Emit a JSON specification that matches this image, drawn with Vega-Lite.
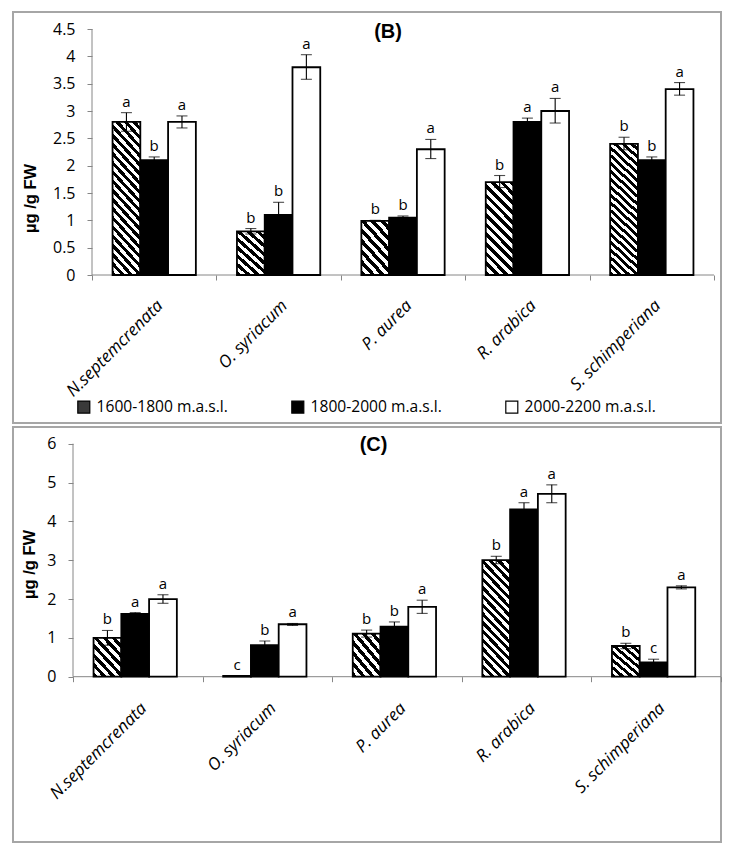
{
  "$schema": "https://vega.github.io/schema/vega-lite/v6.json",
  "background": "white",
  "padding": {"left": 11, "top": 11, "right": 0, "bottom": 0},
  "bounds": "flush",
  "spacing": 4,
  "config": {"view": {"stroke": "#a6a6a6", "strokeWidth": 2}, "font": "Open Sans"},
  "datasets": {
    "B": [
      {"sp": "N.septemcrenata", "elev": "1600-1800 m.a.s.l.", "v": 2.8, "lo": 2.63, "hi": 2.97, "lab": "a"},
      {"sp": "N.septemcrenata", "elev": "1800-2000 m.a.s.l.", "v": 2.1, "lo": 2.04, "hi": 2.16, "lab": "b"},
      {"sp": "N.septemcrenata", "elev": "2000-2200 m.a.s.l.", "v": 2.8, "lo": 2.69, "hi": 2.91, "lab": "a"},
      {"sp": "O. syriacum", "elev": "1600-1800 m.a.s.l.", "v": 0.8, "lo": 0.75, "hi": 0.85, "lab": "b"},
      {"sp": "O. syriacum", "elev": "1800-2000 m.a.s.l.", "v": 1.1, "lo": 0.88, "hi": 1.33, "lab": "b"},
      {"sp": "O. syriacum", "elev": "2000-2200 m.a.s.l.", "v": 3.8, "lo": 3.58, "hi": 4.03, "lab": "a"},
      {"sp": "P. aurea", "elev": "1600-1800 m.a.s.l.", "v": 0.99, "lo": 0.98, "hi": 1.0, "lab": "b"},
      {"sp": "P. aurea", "elev": "1800-2000 m.a.s.l.", "v": 1.05, "lo": 1.03, "hi": 1.08, "lab": "b"},
      {"sp": "P. aurea", "elev": "2000-2200 m.a.s.l.", "v": 2.3, "lo": 2.13, "hi": 2.48, "lab": "a"},
      {"sp": "R. arabica", "elev": "1600-1800 m.a.s.l.", "v": 1.7, "lo": 1.6, "hi": 1.82, "lab": "b"},
      {"sp": "R. arabica", "elev": "1800-2000 m.a.s.l.", "v": 2.8, "lo": 2.73, "hi": 2.87, "lab": "a"},
      {"sp": "R. arabica", "elev": "2000-2200 m.a.s.l.", "v": 3.0, "lo": 2.78, "hi": 3.23, "lab": "a"},
      {"sp": "S. schimperiana", "elev": "1600-1800 m.a.s.l.", "v": 2.4, "lo": 2.29, "hi": 2.52, "lab": "b"},
      {"sp": "S. schimperiana", "elev": "1800-2000 m.a.s.l.", "v": 2.1, "lo": 2.04, "hi": 2.16, "lab": "b"},
      {"sp": "S. schimperiana", "elev": "2000-2200 m.a.s.l.", "v": 3.4, "lo": 3.29, "hi": 3.52, "lab": "a"}
    ],
    "C": [
      {"sp": "N.septemcrenata", "elev": "1600-1800 m.a.s.l.", "v": 1.0, "lo": 0.81, "hi": 1.19, "lab": "b"},
      {"sp": "N.septemcrenata", "elev": "1800-2000 m.a.s.l.", "v": 1.62, "lo": 1.59, "hi": 1.65, "lab": "a"},
      {"sp": "N.septemcrenata", "elev": "2000-2200 m.a.s.l.", "v": 2.0, "lo": 1.89, "hi": 2.11, "lab": "a"},
      {"sp": "O. syriacum", "elev": "1600-1800 m.a.s.l.", "v": 0.02, "lo": 0.02, "hi": 0.02, "lab": "c"},
      {"sp": "O. syriacum", "elev": "1800-2000 m.a.s.l.", "v": 0.81, "lo": 0.7, "hi": 0.92, "lab": "b"},
      {"sp": "O. syriacum", "elev": "2000-2200 m.a.s.l.", "v": 1.35, "lo": 1.32, "hi": 1.37, "lab": "a"},
      {"sp": "P. aurea", "elev": "1600-1800 m.a.s.l.", "v": 1.11, "lo": 1.02, "hi": 1.2, "lab": "b"},
      {"sp": "P. aurea", "elev": "1800-2000 m.a.s.l.", "v": 1.29, "lo": 1.17, "hi": 1.41, "lab": "b"},
      {"sp": "P. aurea", "elev": "2000-2200 m.a.s.l.", "v": 1.8, "lo": 1.63, "hi": 1.97, "lab": "a"},
      {"sp": "R. arabica", "elev": "1600-1800 m.a.s.l.", "v": 3.0, "lo": 2.91, "hi": 3.1, "lab": "b"},
      {"sp": "R. arabica", "elev": "1800-2000 m.a.s.l.", "v": 4.31, "lo": 4.14, "hi": 4.48, "lab": "a"},
      {"sp": "R. arabica", "elev": "2000-2200 m.a.s.l.", "v": 4.71, "lo": 4.48, "hi": 4.94, "lab": "a"},
      {"sp": "S. schimperiana", "elev": "1600-1800 m.a.s.l.", "v": 0.79, "lo": 0.72, "hi": 0.86, "lab": "b"},
      {"sp": "S. schimperiana", "elev": "1800-2000 m.a.s.l.", "v": 0.37, "lo": 0.28, "hi": 0.45, "lab": "c"},
      {"sp": "S. schimperiana", "elev": "2000-2200 m.a.s.l.", "v": 2.3, "lo": 2.26, "hi": 2.34, "lab": "a"}
    ]
  },
  "vconcat": [
    {
      "width": 708,
      "height": 411,
      "data": {"name": "B"},
      "title": {"text": "(B)", "font": "Liberation Sans", "fontWeight": "bold", "fontSize": 20, "color": "#000", "anchor": "middle", "offset": -42, "dx": 21, "dy": 8, "baseline": "bottom"},
      "layer": [
        {
          "data": {"values": [{}]},
          "mark": {"type": "rule", "color": "#868686", "strokeWidth": 1},
          "encoding": {
            "x": {"datum": "N.septemcrenata", "type": "nominal", "bandPosition": 0, "scale": {"domain": ["N.septemcrenata", "O. syriacum", "P. aurea", "R. arabica", "S. schimperiana"], "paddingInner": 0, "paddingOuter": 0.3457, "align": 0.9186}},
            "y": {"datum": 0, "type": "quantitative", "scale": {"domain": [-2.707, 4.811], "nice": false, "zero": false}},
            "y2": {"datum": 4.5}
          }
        },
        {
          "data": {"values": [{}]},
          "mark": {"type": "rule", "color": "#868686", "strokeWidth": 1},
          "encoding": {
            "x": {"datum": "N.septemcrenata", "type": "nominal", "bandPosition": 0},
            "x2": {"datum": "S. schimperiana", "bandPosition": 1},
            "y": {"datum": 0, "type": "quantitative"}
          }
        },
        {
          "mark": {"type": "bar", "stroke": "#000", "strokeWidth": 1.8},
          "encoding": {
            "x": {"field": "sp", "type": "nominal", "scale": {"domain": ["N.septemcrenata", "O. syriacum", "P. aurea", "R. arabica", "S. schimperiana"], "paddingInner": 0, "paddingOuter": 0.3457, "align": 0.9186},
              "axis": {"title": null, "domain": false, "grid": false, "tickBand": "extent", "tickColor": "#868686", "tickSize": 5, "labelAngle": -45, "labelAlign": "right", "labelBaseline": "top", "labelPadding": 17, "labelFont": "Open Sans", "labelFontSize": 17, "labelFontStyle": "italic", "labelColor": "#000", "labelOverlap": false, "offset": -148}},
            "xOffset": {"field": "elev", "type": "nominal", "scale": {"domain": ["1600-1800 m.a.s.l.", "1800-2000 m.a.s.l.", "2000-2200 m.a.s.l."], "paddingInner": 0, "paddingOuter": 0.74}},
            "y": {"field": "v", "type": "quantitative", "scale": {"domain": [-2.707, 4.811], "nice": false, "zero": false},
              "axis": {"title": "µg /g FW", "values": [0, 0.5, 1, 1.5, 2, 2.5, 3, 3.5, 4, 4.5], "format": "~g", "offset": -79, "domain": false, "grid": false, "tickColor": "#868686", "tickSize": 5, "labelPadding": 12, "labelFont": "Open Sans", "labelFontSize": 16, "labelColor": "#000", "titleFont": "Liberation Sans", "titleFontSize": 16.5, "titleFontWeight": "bold", "titleColor": "#000", "titleX": -62, "titleY": 186, "titleBaseline": "middle", "titleAlign": "center", "titleAngle": 270}},
            "fill": {
              "condition": [
                {"test": "datum.elev === '1600-1800 m.a.s.l.' && datum.v >= 2.2", "value": {"gradient": "linear", "x1": 0, "y1": 1, "x2": 0.2273, "y2": -0.1525, "stops": [
                  {"offset": 0, "color": "#000"}, {"offset": 0.025, "color": "#000"}, {"offset": 0.025, "color": "#fff"}, {"offset": 0.05, "color": "#fff"},
                  {"offset": 0.05, "color": "#000"}, {"offset": 0.075, "color": "#000"}, {"offset": 0.075, "color": "#fff"}, {"offset": 0.1, "color": "#fff"},
                  {"offset": 0.1, "color": "#000"}, {"offset": 0.125, "color": "#000"}, {"offset": 0.125, "color": "#fff"}, {"offset": 0.15, "color": "#fff"},
                  {"offset": 0.15, "color": "#000"}, {"offset": 0.175, "color": "#000"}, {"offset": 0.175, "color": "#fff"}, {"offset": 0.2, "color": "#fff"},
                  {"offset": 0.2, "color": "#000"}, {"offset": 0.225, "color": "#000"}, {"offset": 0.225, "color": "#fff"}, {"offset": 0.25, "color": "#fff"},
                  {"offset": 0.25, "color": "#000"}, {"offset": 0.275, "color": "#000"}, {"offset": 0.275, "color": "#fff"}, {"offset": 0.3, "color": "#fff"},
                  {"offset": 0.3, "color": "#000"}, {"offset": 0.325, "color": "#000"}, {"offset": 0.325, "color": "#fff"}, {"offset": 0.35, "color": "#fff"},
                  {"offset": 0.35, "color": "#000"}, {"offset": 0.375, "color": "#000"}, {"offset": 0.375, "color": "#fff"}, {"offset": 0.4, "color": "#fff"},
                  {"offset": 0.4, "color": "#000"}, {"offset": 0.425, "color": "#000"}, {"offset": 0.425, "color": "#fff"}, {"offset": 0.45, "color": "#fff"},
                  {"offset": 0.45, "color": "#000"}, {"offset": 0.475, "color": "#000"}, {"offset": 0.475, "color": "#fff"}, {"offset": 0.5, "color": "#fff"},
                  {"offset": 0.5, "color": "#000"}, {"offset": 0.525, "color": "#000"}, {"offset": 0.525, "color": "#fff"}, {"offset": 0.55, "color": "#fff"},
                  {"offset": 0.55, "color": "#000"}, {"offset": 0.575, "color": "#000"}, {"offset": 0.575, "color": "#fff"}, {"offset": 0.6, "color": "#fff"},
                  {"offset": 0.6, "color": "#000"}, {"offset": 0.625, "color": "#000"}, {"offset": 0.625, "color": "#fff"}, {"offset": 0.65, "color": "#fff"},
                  {"offset": 0.65, "color": "#000"}, {"offset": 0.675, "color": "#000"}, {"offset": 0.675, "color": "#fff"}, {"offset": 0.7, "color": "#fff"},
                  {"offset": 0.7, "color": "#000"}, {"offset": 0.725, "color": "#000"}, {"offset": 0.725, "color": "#fff"}, {"offset": 0.75, "color": "#fff"},
                  {"offset": 0.75, "color": "#000"}, {"offset": 0.775, "color": "#000"}, {"offset": 0.775, "color": "#fff"}, {"offset": 0.8, "color": "#fff"},
                  {"offset": 0.8, "color": "#000"}, {"offset": 0.825, "color": "#000"}, {"offset": 0.825, "color": "#fff"}, {"offset": 0.85, "color": "#fff"},
                  {"offset": 0.85, "color": "#000"}, {"offset": 0.875, "color": "#000"}, {"offset": 0.875, "color": "#fff"}, {"offset": 0.9, "color": "#fff"},
                  {"offset": 0.9, "color": "#000"}, {"offset": 0.925, "color": "#000"}, {"offset": 0.925, "color": "#fff"}, {"offset": 0.95, "color": "#fff"},
                  {"offset": 0.95, "color": "#000"}, {"offset": 0.975, "color": "#000"}, {"offset": 0.975, "color": "#fff"}, {"offset": 1, "color": "#fff"}
                ]}},
                {"test": "datum.elev === '1600-1800 m.a.s.l.' && datum.v >= 1.5", "value": {"gradient": "linear", "x1": 0, "y1": 1, "x2": 0.3594, "y2": -0.1932, "stops": [
                  {"offset": 0, "color": "#000"}, {"offset": 0.04, "color": "#000"}, {"offset": 0.04, "color": "#fff"}, {"offset": 0.08, "color": "#fff"},
                  {"offset": 0.08, "color": "#000"}, {"offset": 0.12, "color": "#000"}, {"offset": 0.12, "color": "#fff"}, {"offset": 0.16, "color": "#fff"},
                  {"offset": 0.16, "color": "#000"}, {"offset": 0.2, "color": "#000"}, {"offset": 0.2, "color": "#fff"}, {"offset": 0.24, "color": "#fff"},
                  {"offset": 0.24, "color": "#000"}, {"offset": 0.28, "color": "#000"}, {"offset": 0.28, "color": "#fff"}, {"offset": 0.32, "color": "#fff"},
                  {"offset": 0.32, "color": "#000"}, {"offset": 0.36, "color": "#000"}, {"offset": 0.36, "color": "#fff"}, {"offset": 0.4, "color": "#fff"},
                  {"offset": 0.4, "color": "#000"}, {"offset": 0.44, "color": "#000"}, {"offset": 0.44, "color": "#fff"}, {"offset": 0.48, "color": "#fff"},
                  {"offset": 0.48, "color": "#000"}, {"offset": 0.52, "color": "#000"}, {"offset": 0.52, "color": "#fff"}, {"offset": 0.56, "color": "#fff"},
                  {"offset": 0.56, "color": "#000"}, {"offset": 0.6, "color": "#000"}, {"offset": 0.6, "color": "#fff"}, {"offset": 0.64, "color": "#fff"},
                  {"offset": 0.64, "color": "#000"}, {"offset": 0.68, "color": "#000"}, {"offset": 0.68, "color": "#fff"}, {"offset": 0.72, "color": "#fff"},
                  {"offset": 0.72, "color": "#000"}, {"offset": 0.76, "color": "#000"}, {"offset": 0.76, "color": "#fff"}, {"offset": 0.8, "color": "#fff"},
                  {"offset": 0.8, "color": "#000"}, {"offset": 0.84, "color": "#000"}, {"offset": 0.84, "color": "#fff"}, {"offset": 0.88, "color": "#fff"},
                  {"offset": 0.88, "color": "#000"}, {"offset": 0.92, "color": "#000"}, {"offset": 0.92, "color": "#fff"}, {"offset": 0.96, "color": "#fff"},
                  {"offset": 0.96, "color": "#000"}, {"offset": 1, "color": "#000"}
                ]}},
                {"test": "datum.elev === '1600-1800 m.a.s.l.'", "value": {"gradient": "linear", "x1": 0, "y1": 1, "x2": 0.6702, "y2": -0.1863, "stops": [
                  {"offset": 0, "color": "#000"}, {"offset": 0.0625, "color": "#000"}, {"offset": 0.0625, "color": "#fff"}, {"offset": 0.125, "color": "#fff"},
                  {"offset": 0.125, "color": "#000"}, {"offset": 0.1875, "color": "#000"}, {"offset": 0.1875, "color": "#fff"}, {"offset": 0.25, "color": "#fff"},
                  {"offset": 0.25, "color": "#000"}, {"offset": 0.3125, "color": "#000"}, {"offset": 0.3125, "color": "#fff"}, {"offset": 0.375, "color": "#fff"},
                  {"offset": 0.375, "color": "#000"}, {"offset": 0.4375, "color": "#000"}, {"offset": 0.4375, "color": "#fff"}, {"offset": 0.5, "color": "#fff"},
                  {"offset": 0.5, "color": "#000"}, {"offset": 0.5625, "color": "#000"}, {"offset": 0.5625, "color": "#fff"}, {"offset": 0.625, "color": "#fff"},
                  {"offset": 0.625, "color": "#000"}, {"offset": 0.6875, "color": "#000"}, {"offset": 0.6875, "color": "#fff"}, {"offset": 0.75, "color": "#fff"},
                  {"offset": 0.75, "color": "#000"}, {"offset": 0.8125, "color": "#000"}, {"offset": 0.8125, "color": "#fff"}, {"offset": 0.875, "color": "#fff"},
                  {"offset": 0.875, "color": "#000"}, {"offset": 0.9375, "color": "#000"}, {"offset": 0.9375, "color": "#fff"}, {"offset": 1, "color": "#fff"}
                ]}}
              ],
              "field": "elev", "type": "nominal",
              "scale": {"domain": ["1600-1800 m.a.s.l.", "1800-2000 m.a.s.l.", "2000-2200 m.a.s.l."], "range": ["#3a3a3a", "#000", "#fff"]},
              "legend": {"title": null, "orient": "none", "legendX": 63, "legendY": 387, "direction": "horizontal", "padding": 0, "symbolType": "square", "symbolSize": 144, "symbolStrokeWidth": 1.2, "labelFont": "Open Sans", "labelFontSize": 15.6, "labelColor": "#000", "labelOffset": 5, "columnPadding": 61, "labelLimit": 300}
            },
            "stroke": {"field": "elev", "type": "nominal",
              "scale": {"domain": ["1600-1800 m.a.s.l.", "1800-2000 m.a.s.l.", "2000-2200 m.a.s.l."], "range": ["#000", "#000", "#000"]},
              "legend": {"title": null, "orient": "none", "legendX": 63, "legendY": 387, "direction": "horizontal", "padding": 0, "symbolType": "square", "symbolSize": 144, "symbolStrokeWidth": 1.2, "labelFont": "Open Sans", "labelFontSize": 15.6, "labelColor": "#000", "labelOffset": 5, "columnPadding": 61, "labelLimit": 300}
            }
          }
        },
        {
          "mark": {"type": "rule", "color": "#000", "strokeWidth": 1.1},
          "encoding": {
            "x": {"field": "sp", "type": "nominal"},
            "xOffset": {"field": "elev", "type": "nominal"},
            "y": {"field": "lo", "type": "quantitative"},
            "y2": {"field": "hi"}
          }
        },
        {
          "mark": {"type": "tick", "orient": "horizontal", "size": 11, "thickness": 1.1, "color": "#000"},
          "encoding": {
            "x": {"field": "sp", "type": "nominal"},
            "xOffset": {"field": "elev", "type": "nominal"},
            "y": {"field": "hi", "type": "quantitative"}
          }
        },
        {
          "mark": {"type": "tick", "orient": "horizontal", "size": 11, "thickness": 1.1, "color": "#000"},
          "encoding": {
            "x": {"field": "sp", "type": "nominal"},
            "xOffset": {"field": "elev", "type": "nominal"},
            "y": {"field": "lo", "type": "quantitative"}
          }
        },
        {
          "mark": {"type": "text", "font": "Open Sans", "fontSize": 15, "color": "#000", "baseline": "alphabetic", "dy": -6},
          "encoding": {
            "x": {"field": "sp", "type": "nominal"},
            "xOffset": {"field": "elev", "type": "nominal"},
            "y": {"field": "hi", "type": "quantitative"},
            "text": {"field": "lab"}
          }
        }
      ]
    },
    {
      "width": 708,
      "height": 415,
      "data": {"name": "C"},
      "title": {"text": "(C)", "font": "Liberation Sans", "fontWeight": "bold", "fontSize": 20, "color": "#000", "anchor": "middle", "offset": -46, "dx": 6.5, "dy": 2, "baseline": "bottom"},
      "layer": [
        {
          "data": {"values": [{}]},
          "mark": {"type": "rule", "color": "#868686", "strokeWidth": 1},
          "encoding": {
            "x": {"datum": "N.septemcrenata", "type": "nominal", "bandPosition": 0, "scale": {"domain": ["N.septemcrenata", "O. syriacum", "P. aurea", "R. arabica", "S. schimperiana"], "paddingInner": 0, "paddingOuter": 0.2315, "align": 1}},
            "y": {"datum": 0, "type": "quantitative", "scale": {"domain": [-4.257, 6.43], "nice": false, "zero": false}},
            "y2": {"datum": 6}
          }
        },
        {
          "data": {"values": [{}]},
          "mark": {"type": "rule", "color": "#868686", "strokeWidth": 1},
          "encoding": {
            "x": {"datum": "N.septemcrenata", "type": "nominal", "bandPosition": 0},
            "x2": {"datum": "S. schimperiana", "bandPosition": 1},
            "y": {"datum": 0, "type": "quantitative"}
          }
        },
        {
          "mark": {"type": "bar", "stroke": "#000", "strokeWidth": 1.8},
          "encoding": {
            "x": {"field": "sp", "type": "nominal", "scale": {"domain": ["N.septemcrenata", "O. syriacum", "P. aurea", "R. arabica", "S. schimperiana"], "paddingInner": 0, "paddingOuter": 0.2315, "align": 1},
              "axis": {"title": null, "domain": false, "grid": false, "tickBand": "extent", "tickColor": "#868686", "tickSize": 5, "labelAngle": -45, "labelAlign": "right", "labelBaseline": "top", "labelPadding": 18, "labelFont": "Open Sans", "labelFontSize": 17, "labelFontStyle": "italic", "labelColor": "#000", "labelOverlap": false, "offset": -165.3}},
            "xOffset": {"field": "elev", "type": "nominal", "scale": {"domain": ["1600-1800 m.a.s.l.", "1800-2000 m.a.s.l.", "2000-2200 m.a.s.l."], "paddingInner": 0, "paddingOuter": 0.74}},
            "y": {"field": "v", "type": "quantitative", "scale": {"domain": [-4.257, 6.43], "nice": false, "zero": false},
              "axis": {"title": "µg /g FW", "values": [0, 1, 2, 3, 4, 5, 6], "format": "~g", "offset": -60, "domain": false, "grid": false, "tickColor": "#868686", "tickSize": 5, "labelPadding": 12, "labelFont": "Open Sans", "labelFontSize": 16, "labelColor": "#000", "titleFont": "Liberation Sans", "titleFontSize": 16.5, "titleFontWeight": "bold", "titleColor": "#000", "titleX": -44, "titleY": 137, "titleBaseline": "middle", "titleAlign": "center", "titleAngle": 270}},
            "fill": {
              "condition": [
                {"test": "datum.elev === '1600-1800 m.a.s.l.' && datum.v >= 2", "value": {"gradient": "linear", "x1": 0, "y1": 1, "x2": 0.2925, "y2": -0.176, "stops": [
                  {"offset": 0, "color": "#000"}, {"offset": 0.03, "color": "#000"}, {"offset": 0.03, "color": "#fff"}, {"offset": 0.06, "color": "#fff"},
                  {"offset": 0.06, "color": "#000"}, {"offset": 0.09, "color": "#000"}, {"offset": 0.09, "color": "#fff"}, {"offset": 0.12, "color": "#fff"},
                  {"offset": 0.12, "color": "#000"}, {"offset": 0.15, "color": "#000"}, {"offset": 0.15, "color": "#fff"}, {"offset": 0.18, "color": "#fff"},
                  {"offset": 0.18, "color": "#000"}, {"offset": 0.21, "color": "#000"}, {"offset": 0.21, "color": "#fff"}, {"offset": 0.24, "color": "#fff"},
                  {"offset": 0.24, "color": "#000"}, {"offset": 0.27, "color": "#000"}, {"offset": 0.27, "color": "#fff"}, {"offset": 0.3, "color": "#fff"},
                  {"offset": 0.3, "color": "#000"}, {"offset": 0.33, "color": "#000"}, {"offset": 0.33, "color": "#fff"}, {"offset": 0.36, "color": "#fff"},
                  {"offset": 0.36, "color": "#000"}, {"offset": 0.39, "color": "#000"}, {"offset": 0.39, "color": "#fff"}, {"offset": 0.42, "color": "#fff"},
                  {"offset": 0.42, "color": "#000"}, {"offset": 0.45, "color": "#000"}, {"offset": 0.45, "color": "#fff"}, {"offset": 0.48, "color": "#fff"},
                  {"offset": 0.48, "color": "#000"}, {"offset": 0.51, "color": "#000"}, {"offset": 0.51, "color": "#fff"}, {"offset": 0.54, "color": "#fff"},
                  {"offset": 0.54, "color": "#000"}, {"offset": 0.57, "color": "#000"}, {"offset": 0.57, "color": "#fff"}, {"offset": 0.6, "color": "#fff"},
                  {"offset": 0.6, "color": "#000"}, {"offset": 0.63, "color": "#000"}, {"offset": 0.63, "color": "#fff"}, {"offset": 0.66, "color": "#fff"},
                  {"offset": 0.66, "color": "#000"}, {"offset": 0.69, "color": "#000"}, {"offset": 0.69, "color": "#fff"}, {"offset": 0.72, "color": "#fff"},
                  {"offset": 0.72, "color": "#000"}, {"offset": 0.75, "color": "#000"}, {"offset": 0.75, "color": "#fff"}, {"offset": 0.78, "color": "#fff"},
                  {"offset": 0.78, "color": "#000"}, {"offset": 0.81, "color": "#000"}, {"offset": 0.81, "color": "#fff"}, {"offset": 0.84, "color": "#fff"},
                  {"offset": 0.84, "color": "#000"}, {"offset": 0.87, "color": "#000"}, {"offset": 0.87, "color": "#fff"}, {"offset": 0.9, "color": "#fff"},
                  {"offset": 0.9, "color": "#000"}, {"offset": 0.93, "color": "#000"}, {"offset": 0.93, "color": "#fff"}, {"offset": 0.96, "color": "#fff"},
                  {"offset": 0.96, "color": "#000"}, {"offset": 0.99, "color": "#000"}, {"offset": 0.99, "color": "#fff"}, {"offset": 1, "color": "#fff"}
                ]}},
                {"test": "datum.elev === '1600-1800 m.a.s.l.'", "value": {"gradient": "linear", "x1": 0, "y1": 1, "x2": 0.855, "y2": -0.1115, "stops": [
                  {"offset": 0, "color": "#000"}, {"offset": 0.07, "color": "#000"}, {"offset": 0.07, "color": "#fff"}, {"offset": 0.14, "color": "#fff"},
                  {"offset": 0.14, "color": "#000"}, {"offset": 0.21, "color": "#000"}, {"offset": 0.21, "color": "#fff"}, {"offset": 0.28, "color": "#fff"},
                  {"offset": 0.28, "color": "#000"}, {"offset": 0.35, "color": "#000"}, {"offset": 0.35, "color": "#fff"}, {"offset": 0.42, "color": "#fff"},
                  {"offset": 0.42, "color": "#000"}, {"offset": 0.49, "color": "#000"}, {"offset": 0.49, "color": "#fff"}, {"offset": 0.56, "color": "#fff"},
                  {"offset": 0.56, "color": "#000"}, {"offset": 0.63, "color": "#000"}, {"offset": 0.63, "color": "#fff"}, {"offset": 0.7, "color": "#fff"},
                  {"offset": 0.7, "color": "#000"}, {"offset": 0.77, "color": "#000"}, {"offset": 0.77, "color": "#fff"}, {"offset": 0.84, "color": "#fff"},
                  {"offset": 0.84, "color": "#000"}, {"offset": 0.91, "color": "#000"}, {"offset": 0.91, "color": "#fff"}, {"offset": 0.98, "color": "#fff"},
                  {"offset": 0.98, "color": "#000"}, {"offset": 1, "color": "#000"}
                ]}}
              ],
              "field": "elev", "type": "nominal",
              "scale": {"domain": ["1600-1800 m.a.s.l.", "1800-2000 m.a.s.l.", "2000-2200 m.a.s.l."], "range": ["#3a3a3a", "#000", "#fff"]},
              "legend": {"title": null, "orient": "none", "legendX": 64, "legendY": 378, "direction": "horizontal", "padding": 0, "symbolType": "square", "symbolSize": 144, "symbolStrokeWidth": 1.2, "labelFont": "Open Sans", "labelFontSize": 15.6, "labelColor": "#000", "labelOffset": 5, "columnPadding": 61, "labelLimit": 300}
            },
            "stroke": {"field": "elev", "type": "nominal",
              "scale": {"domain": ["1600-1800 m.a.s.l.", "1800-2000 m.a.s.l.", "2000-2200 m.a.s.l."], "range": ["#000", "#000", "#000"]},
              "legend": {"title": null, "orient": "none", "legendX": 64, "legendY": 378, "direction": "horizontal", "padding": 0, "symbolType": "square", "symbolSize": 144, "symbolStrokeWidth": 1.2, "labelFont": "Open Sans", "labelFontSize": 15.6, "labelColor": "#000", "labelOffset": 5, "columnPadding": 61, "labelLimit": 300}
            }
          }
        },
        {
          "mark": {"type": "rule", "color": "#000", "strokeWidth": 1.1},
          "encoding": {
            "x": {"field": "sp", "type": "nominal"},
            "xOffset": {"field": "elev", "type": "nominal"},
            "y": {"field": "lo", "type": "quantitative"},
            "y2": {"field": "hi"}
          }
        },
        {
          "mark": {"type": "tick", "orient": "horizontal", "size": 11, "thickness": 1.1, "color": "#000"},
          "encoding": {
            "x": {"field": "sp", "type": "nominal"},
            "xOffset": {"field": "elev", "type": "nominal"},
            "y": {"field": "hi", "type": "quantitative"}
          }
        },
        {
          "mark": {"type": "tick", "orient": "horizontal", "size": 11, "thickness": 1.1, "color": "#000"},
          "encoding": {
            "x": {"field": "sp", "type": "nominal"},
            "xOffset": {"field": "elev", "type": "nominal"},
            "y": {"field": "lo", "type": "quantitative"}
          }
        },
        {
          "mark": {"type": "text", "font": "Open Sans", "fontSize": 15, "color": "#000", "baseline": "alphabetic", "dy": -6},
          "encoding": {
            "x": {"field": "sp", "type": "nominal"},
            "xOffset": {"field": "elev", "type": "nominal"},
            "y": {"field": "hi", "type": "quantitative"},
            "text": {"field": "lab"}
          }
        }
      ]
    }
  ]
}
